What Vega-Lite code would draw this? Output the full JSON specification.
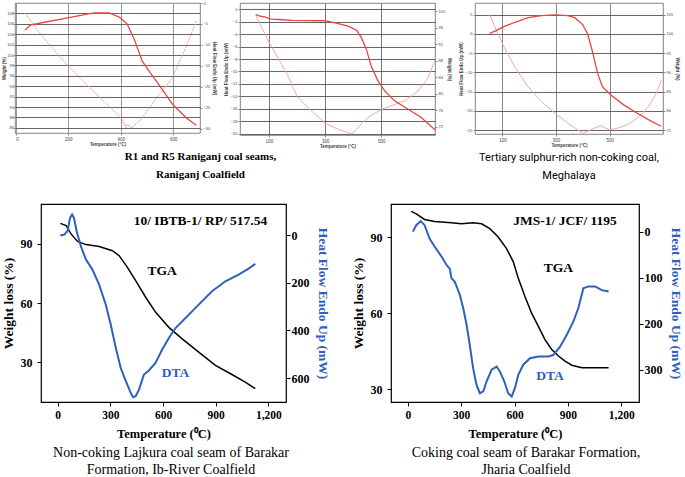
{
"$schema":"https://vega.github.io/schema/vega-lite/v6.json",
"background":"white",
"padding":{"left":0,"top":0,"right":0,"bottom":0},
"config":{"font":"Liberation Serif","view":{"stroke":"black","strokeWidth":1.2},"axis":{"labelColor":"black","titleColor":"black","tickColor":"black","domainColor":"black"}},
"datasets":{
"p1_tga":[{"T":35,"v":104.8},{"T":58,"v":105.8},{"T":100,"v":106.2},{"T":192,"v":107.1},{"T":298,"v":108.1},{"T":356,"v":108.1},{"T":394,"v":107.3},{"T":424,"v":106.0},{"T":451,"v":103.1},{"T":482,"v":98.8},{"T":508,"v":96.9},{"T":554,"v":93.7},{"T":596,"v":90.6},{"T":650,"v":87.9},{"T":688,"v":86.5}],
"p1_dta":[{"T":35,"v":-2.4},{"T":100,"v":-7.9},{"T":192,"v":-14.5},{"T":306,"v":-21.7},{"T":402,"v":-27.4},{"T":421,"v":-29.8},{"T":424,"v":-28.9},{"T":443,"v":-29.8},{"T":482,"v":-27.4},{"T":535,"v":-22.7},{"T":596,"v":-17.9},{"T":650,"v":-10.3},{"T":688,"v":-4.3}],
"p2_tga":[{"T":53,"v":99.2},{"T":65,"v":98.9},{"T":88,"v":98.6},{"T":106,"v":98.1},{"T":135,"v":98.0},{"T":182,"v":97.8},{"T":300,"v":97.7},{"T":347,"v":97.0},{"T":382,"v":96.4},{"T":412,"v":95.4},{"T":429,"v":93.6},{"T":447,"v":90.7},{"T":464,"v":86.7},{"T":488,"v":83.1},{"T":512,"v":80.7},{"T":547,"v":78.3},{"T":594,"v":76.3},{"T":641,"v":74.3},{"T":691,"v":71.3}],
"p2_dta":[{"T":53,"v":-1.0},{"T":77,"v":-3.2},{"T":100,"v":-5.3},{"T":135,"v":-8.0},{"T":170,"v":-10.9},{"T":200,"v":-14.0},{"T":241,"v":-15.9},{"T":300,"v":-18.3},{"T":347,"v":-19.3},{"T":394,"v":-20.0},{"T":412,"v":-19.3},{"T":430,"v":-18.3},{"T":459,"v":-17.2},{"T":500,"v":-16.1},{"T":547,"v":-15.3},{"T":588,"v":-14.6},{"T":629,"v":-13.2},{"T":665,"v":-11.1},{"T":691,"v":-8.2}],
"p3_tga":[{"T":52,"v":100.1},{"T":73,"v":100.7},{"T":98,"v":101.6},{"T":110,"v":102.0},{"T":147,"v":103.0},{"T":196,"v":104.2},{"T":246,"v":104.7},{"T":295,"v":104.9},{"T":344,"v":104.7},{"T":369,"v":104.2},{"T":399,"v":102.4},{"T":418,"v":99.9},{"T":436,"v":95.2},{"T":455,"v":89.6},{"T":473,"v":86.2},{"T":504,"v":84.1},{"T":553,"v":81.5},{"T":602,"v":79.4},{"T":652,"v":77.4},{"T":691,"v":76.0}],
"p3_dta":[{"T":52,"v":5.0},{"T":73,"v":1.6},{"T":104,"v":-3.1},{"T":147,"v":-8.7},{"T":196,"v":-13.8},{"T":246,"v":-17.6},{"T":295,"v":-20.6},{"T":344,"v":-23.2},{"T":399,"v":-25.8},{"T":418,"v":-25.3},{"T":442,"v":-24.5},{"T":467,"v":-23.8},{"T":479,"v":-24.3},{"T":498,"v":-24.9},{"T":528,"v":-24.5},{"T":565,"v":-23.6},{"T":602,"v":-21.9},{"T":639,"v":-19.4},{"T":670,"v":-15.9},{"T":691,"v":-12.1}],
"p4_tga":[{"T":15,"v":100.2},{"T":48,"v":99.1},{"T":76,"v":94.9},{"T":113,"v":91.1},{"T":161,"v":89.5},{"T":236,"v":88.5},{"T":312,"v":86.4},{"T":350,"v":83.9},{"T":397,"v":78.0},{"T":444,"v":71.3},{"T":501,"v":62.9},{"T":558,"v":55.3},{"T":633,"v":47.7},{"T":709,"v":41.9},{"T":803,"v":35.2},{"T":898,"v":28.5},{"T":992,"v":23.9},{"T":1068,"v":20.0},{"T":1125,"v":16.7}],
"p4_dta":[{"T":15,"v":2},{"T":38,"v":-2},{"T":57,"v":-18},{"T":70,"v":-71},{"T":82,"v":-86},{"T":93,"v":-71},{"T":108,"v":-16},{"T":132,"v":47},{"T":161,"v":103},{"T":198,"v":145},{"T":236,"v":208},{"T":274,"v":292},{"T":302,"v":375},{"T":331,"v":474},{"T":359,"v":557},{"T":388,"v":613},{"T":416,"v":662},{"T":429,"v":680},{"T":444,"v":676},{"T":463,"v":648},{"T":491,"v":585},{"T":519,"v":568},{"T":557,"v":536},{"T":595,"v":480},{"T":633,"v":432},{"T":671,"v":390},{"T":728,"v":348},{"T":803,"v":292},{"T":879,"v":236},{"T":955,"v":194},{"T":1030,"v":166},{"T":1087,"v":141},{"T":1125,"v":121}],
"p5_tga":[{"T":19,"v":100.1},{"T":47,"v":99.1},{"T":94,"v":96.9},{"T":151,"v":96.1},{"T":245,"v":95.6},{"T":301,"v":95.2},{"T":367,"v":95.6},{"T":414,"v":95.2},{"T":461,"v":93.3},{"T":508,"v":90.0},{"T":555,"v":85.4},{"T":593,"v":80.2},{"T":621,"v":73.7},{"T":659,"v":66.5},{"T":696,"v":60.0},{"T":734,"v":54.8},{"T":771,"v":49.6},{"T":809,"v":45.7},{"T":847,"v":43.1},{"T":884,"v":41.1},{"T":922,"v":39.5},{"T":979,"v":38.5},{"T":1054,"v":38.5},{"T":1129,"v":38.5}],
"p5_dta":[{"T":28,"v":0},{"T":47,"v":-14},{"T":72,"v":-23},{"T":94,"v":-14},{"T":122,"v":15},{"T":151,"v":33},{"T":189,"v":54},{"T":217,"v":72},{"T":236,"v":81},{"T":245,"v":101},{"T":264,"v":109},{"T":292,"v":137},{"T":311,"v":166},{"T":330,"v":202},{"T":348,"v":246},{"T":367,"v":297},{"T":386,"v":333},{"T":405,"v":351},{"T":424,"v":347},{"T":443,"v":325},{"T":471,"v":300},{"T":499,"v":293},{"T":518,"v":304},{"T":542,"v":325},{"T":564,"v":351},{"T":584,"v":358},{"T":602,"v":340},{"T":621,"v":311},{"T":649,"v":289},{"T":687,"v":275},{"T":734,"v":271},{"T":790,"v":271},{"T":818,"v":268},{"T":856,"v":250},{"T":894,"v":224},{"T":931,"v":195},{"T":959,"v":166},{"T":978,"v":137},{"T":987,"v":123},{"T":1016,"v":119},{"T":1053,"v":119},{"T":1091,"v":127},{"T":1129,"v":130}],
"p4_black":[{"T":813,"v":101.6,"label":"10/ IBTB-1/ RP/ 517.54"},{"T":595,"v":76.4,"label":"TGA"}],
"p4_blue":[{"T":671,"v":24.6,"label":"DTA"}],
"p5_black":[{"T":884,"v":96.5,"label":"JMS-1/ JCF/ 1195"},{"T":846,"v":77.9,"label":"TGA"}],
"p5_blue":[{"T":800,"v":35.2,"label":"DTA"}]
},
"spacing":21,
"vconcat":[
{"hconcat":[
{"width":185,"height":130,"view":{"stroke":"#666","strokeWidth":0.8},
"title":{"text":["R1 and R5 Raniganj coal seams,","Raniganj Coalfield"],"orient":"bottom","anchor":"middle","frame":"group","dx":93,"offset":5,"font":"Liberation Serif","fontSize":11,"fontWeight":"bold","lineHeight":18,"color":"black"},
"layer":[
{"data":{"name":"p1_tga"},"mark":{"type":"line","color":"#e8453c","strokeWidth":1.3},
"encoding":{"x":{"field":"T","type":"quantitative","scale":{"domain":[-3,702],"nice":false},"axis":{"values":[0,100,200,300,400,500,600,700],"title":"Temperature (°C)","labelFont":"Liberation Sans","titleFont":"Liberation Sans","labelFontSize":4.5,"titleFontSize":4.5,"labelColor":"#444","titleColor":"#444","tickSize":2,"tickColor":"#888","labelPadding":1,"titlePadding":1,"grid":true,"gridColor":"#999","gridWidth":1,"domain":false}},
"y":{"field":"v","type":"quantitative","scale":{"domain":[85,110],"nice":false,"zero":false},"axis":{"orient":"left","values":[86,88,90,92,94,96,98,100,102,104,106,108],"title":"Weight (%)","labelFont":"Liberation Sans","titleFont":"Liberation Sans","labelFontSize":4,"titleFontSize":4.5,"labelColor":"#444","titleColor":"#444","tickSize":1.5,"tickColor":"#888","labelPadding":0,"titlePadding":0.5,"grid":true,"gridColor":"#555","gridWidth":0.9,"domain":false}}}},
{"data":{"name":"p1_dta"},"mark":{"type":"line","color":"#f29a92","strokeWidth":1,"strokeDash":[2,1]},
"encoding":{"x":{"field":"T","type":"quantitative","scale":{"domain":[-3,702],"nice":false}},
"y":{"field":"v","type":"quantitative","scale":{"domain":[-31,0],"nice":false,"zero":false},"axis":{"orient":"right","values":[0,-5,-10,-15,-20,-25,-30],"title":"Heat Flow Endo Up (mW)","labelFont":"Liberation Sans","titleFont":"Liberation Sans","labelFontSize":4,"titleFontSize":4.5,"labelColor":"#444","titleColor":"#444","tickSize":2,"tickColor":"#888","labelPadding":1,"titlePadding":2,"grid":false,"domain":false}}}}
],
"resolve":{"scale":{"y":"independent"}}},
{"width":195,"height":132,"view":{"stroke":"#666","strokeWidth":0.8},
"layer":[
{"data":{"name":"p2_dta"},"mark":{"type":"line","color":"#f4a9a2","strokeWidth":1},
"encoding":{"x":{"field":"T","type":"quantitative","scale":{"domain":[-3,691],"nice":false},"axis":{"values":[100,200,300,400,500,600],"title":"Temperature (°C)","labelFont":"Liberation Sans","titleFont":"Liberation Sans","labelFontSize":4.5,"titleFontSize":4.5,"labelColor":"#444","titleColor":"#444","tickSize":2,"tickColor":"#888","labelPadding":1,"titlePadding":1,"grid":true,"gridColor":"#777","gridWidth":1,"domain":false}},
"y":{"field":"v","type":"quantitative","scale":{"domain":[-20.2,1],"nice":false,"zero":false},"axis":{"orient":"left","values":[0,-2,-4,-6,-8,-10,-12,-14,-16,-18,-20],"title":"Heat Flow Endo Up (mW)","labelFont":"Liberation Sans","titleFont":"Liberation Sans","labelFontSize":4,"titleFontSize":4.5,"labelColor":"#444","titleColor":"#444","tickSize":2,"tickColor":"#888","labelPadding":1,"titlePadding":2,"grid":true,"gridColor":"#555","gridWidth":0.9,"domain":false}}}},
{"data":{"name":"p2_tga"},"mark":{"type":"line","color":"#e8453c","strokeWidth":1.3},
"encoding":{"x":{"field":"T","type":"quantitative","scale":{"domain":[-3,691],"nice":false}},
"y":{"field":"v","type":"quantitative","scale":{"domain":[70,102],"nice":false,"zero":false},"axis":{"orient":"right","values":[72,76,80,84,88,92,96,100],"title":"Weight (%)","labelFont":"Liberation Sans","titleFont":"Liberation Sans","labelFontSize":4,"titleFontSize":4.5,"labelColor":"#444","titleColor":"#444","tickSize":2,"tickColor":"#888","labelPadding":1,"titlePadding":2,"grid":false,"domain":false}}}}
],
"resolve":{"scale":{"y":"independent"}}},
{"width":188,"height":131,"view":{"stroke":"#666","strokeWidth":0.8},
"title":{"text":["Tertiary sulphur-rich non-coking coal,","Meghalaya"],"orient":"bottom","anchor":"middle","frame":"group","offset":5,"font":"Roboto","fontSize":11,"fontWeight":"normal","lineHeight":18,"color":"black"},
"layer":[
{"data":{"name":"p3_dta"},"mark":{"type":"line","color":"#f4a9a2","strokeWidth":1},
"encoding":{"x":{"field":"T","type":"quantitative","scale":{"domain":[-2,698],"nice":false},"axis":{"values":[100,200,300,400,500,600,700],"title":"Temperature (°C)","labelFont":"Liberation Sans","titleFont":"Liberation Sans","labelFontSize":4.5,"titleFontSize":4.5,"labelColor":"#444","titleColor":"#444","tickSize":2,"tickColor":"#888","labelPadding":1,"titlePadding":1,"grid":true,"gridColor":"#888","gridWidth":1,"domain":false}},
"y":{"field":"v","type":"quantitative","scale":{"domain":[-26,8],"nice":false,"zero":false},"axis":{"orient":"left","values":[5,0,-5,-10,-15,-20,-25],"title":"Heat Flow Endo Up (mW)","labelFont":"Liberation Sans","titleFont":"Liberation Sans","labelFontSize":4,"titleFontSize":4.5,"labelColor":"#444","titleColor":"#444","tickSize":2,"tickColor":"#888","labelPadding":1,"titlePadding":2,"grid":true,"gridColor":"#555","gridWidth":0.9,"domain":false}}}},
{"data":{"name":"p3_tga"},"mark":{"type":"line","color":"#e8453c","strokeWidth":1.3},
"encoding":{"x":{"field":"T","type":"quantitative","scale":{"domain":[-2,698],"nice":false}},
"y":{"field":"v","type":"quantitative","scale":{"domain":[74,108],"nice":false,"zero":false},"axis":{"orient":"right","values":[75,80,85,90,95,100,105],"title":"Weight (%)","labelFont":"Liberation Sans","titleFont":"Liberation Sans","labelFontSize":4,"titleFontSize":4.5,"labelColor":"#444","titleColor":"#444","tickSize":2,"tickColor":"#888","labelPadding":1,"titlePadding":2,"grid":false,"domain":false}}}}
],
"resolve":{"scale":{"y":"independent"}}}
],"bounds":"flush","spacing":40},
{"hconcat":[
{"width":26,"height":198,"view":{"stroke":null},"data":{"values":[]},"mark":"point"},
{"width":245,"height":198,
"title":{"text":["Non-coking Lajkura coal seam of Barakar","Formation, Ib-River Coalfield"],"orient":"bottom","anchor":"middle","frame":"group","dx":7.5,"offset":6,"font":"Liberation Serif","fontSize":14,"fontWeight":"normal","lineHeight":16.5,"color":"black"},
"layer":[
{"data":{"name":"p4_tga"},"mark":{"type":"line","color":"black","strokeWidth":1.5},
"encoding":{"x":{"field":"T","type":"quantitative","scale":{"domain":[-95,1300],"nice":false},"axis":{"values":[0,300,600,900,1200],"title":"Temperature (⁰C)","labelFont":"Liberation Serif","labelFontWeight":"bold","labelFontSize":11.5,"titleFont":"Liberation Serif","titleFontWeight":"bold","titleFontSize":12.5,"tickSize":4,"labelPadding":3,"titlePadding":7,"grid":false,"domain":false,"labelFlush":false}},
"y":{"field":"v","type":"quantitative","scale":{"domain":[10,110],"nice":false,"zero":false},"axis":{"orient":"left","values":[30,60,90],"title":"Weight loss (%)","labelFont":"Liberation Serif","labelFontWeight":"bold","labelFontSize":12,"titleFont":"Liberation Serif","titleFontWeight":"bold","titleFontSize":13.5,"tickSize":4,"labelPadding":5,"titlePadding":5,"grid":false,"domain":false}}}},
{"data":{"name":"p4_dta"},"mark":{"type":"line","color":"#2f5fbf","strokeWidth":2},
"encoding":{"x":{"field":"T","type":"quantitative","scale":{"domain":[-95,1300],"nice":false}},
"y":{"field":"v","type":"quantitative","scale":{"domain":[-130,700],"nice":false,"zero":false,"reverse":true},"axis":{"orient":"right","values":[0,200,400,600],"title":"Heat Flow Endo Up (mW)","titleColor":"#2f5fbf","labelFont":"Liberation Serif","labelFontWeight":"bold","labelFontSize":12,"titleFont":"Liberation Serif","titleFontWeight":"bold","titleFontSize":13.5,"tickSize":4,"labelPadding":1,"titlePadding":6,"grid":false,"domain":false}}}},
{"data":{"name":"p4_black"},"mark":{"type":"text","color":"black","font":"Liberation Serif","fontWeight":"bold","fontSize":13.5,"align":"center","baseline":"middle"},
"encoding":{"x":{"field":"T","type":"quantitative","scale":{"domain":[-95,1300],"nice":false}},"y":{"field":"v","type":"quantitative","scale":{"domain":[10,110],"nice":false,"zero":false},"axis":null},"text":{"field":"label"}}},
{"data":{"name":"p4_blue"},"mark":{"type":"text","color":"#2f5fbf","font":"Liberation Serif","fontWeight":"bold","fontSize":13.5,"align":"center","baseline":"middle"},
"encoding":{"x":{"field":"T","type":"quantitative","scale":{"domain":[-95,1300],"nice":false}},"y":{"field":"v","type":"quantitative","scale":{"domain":[10,110],"nice":false,"zero":false},"axis":null},"text":{"field":"label"}}}
],
"resolve":{"scale":{"y":"independent"}}},
{"width":105,"height":198,"view":{"stroke":null},"data":{"values":[]},"mark":"point"},
{"width":248,"height":198,
"title":{"text":["Coking coal seam of Barakar Formation,","Jharia Coalfield"],"orient":"bottom","anchor":"middle","frame":"group","dx":11,"offset":6,"font":"Liberation Serif","fontSize":14,"fontWeight":"normal","lineHeight":16.5,"color":"black"},
"layer":[
{"data":{"name":"p5_tga"},"mark":{"type":"line","color":"black","strokeWidth":1.5},
"encoding":{"x":{"field":"T","type":"quantitative","scale":{"domain":[-95,1300],"nice":false},"axis":{"values":[0,300,600,900,1200],"title":"Temperature (⁰C)","labelFont":"Liberation Serif","labelFontWeight":"bold","labelFontSize":11.5,"titleFont":"Liberation Serif","titleFontWeight":"bold","titleFontSize":12.5,"tickSize":4,"labelPadding":3,"titlePadding":7,"grid":false,"domain":false,"labelFlush":false}},
"y":{"field":"v","type":"quantitative","scale":{"domain":[25,103],"nice":false,"zero":false},"axis":{"orient":"left","values":[30,60,90],"title":"Weight loss (%)","labelFont":"Liberation Serif","labelFontWeight":"bold","labelFontSize":12,"titleFont":"Liberation Serif","titleFontWeight":"bold","titleFontSize":13.5,"tickSize":4,"labelPadding":5,"titlePadding":5,"grid":false,"domain":false}}}},
{"data":{"name":"p5_dta"},"mark":{"type":"line","color":"#2f5fbf","strokeWidth":2},
"encoding":{"x":{"field":"T","type":"quantitative","scale":{"domain":[-95,1300],"nice":false}},
"y":{"field":"v","type":"quantitative","scale":{"domain":[-60,370],"nice":false,"zero":false,"reverse":true},"axis":{"orient":"right","values":[0,100,200,300],"title":"Heat Flow Endo Up (mW)","titleColor":"#2f5fbf","labelFont":"Liberation Serif","labelFontWeight":"bold","labelFontSize":12,"titleFont":"Liberation Serif","titleFontWeight":"bold","titleFontSize":13.5,"tickSize":4,"labelPadding":1,"titlePadding":6,"grid":false,"domain":false}}}},
{"data":{"name":"p5_black"},"mark":{"type":"text","color":"black","font":"Liberation Serif","fontWeight":"bold","fontSize":13.5,"align":"center","baseline":"middle"},
"encoding":{"x":{"field":"T","type":"quantitative","scale":{"domain":[-95,1300],"nice":false}},"y":{"field":"v","type":"quantitative","scale":{"domain":[25,103],"nice":false,"zero":false},"axis":null},"text":{"field":"label"}}},
{"data":{"name":"p5_blue"},"mark":{"type":"text","color":"#2f5fbf","font":"Liberation Serif","fontWeight":"bold","fontSize":13.5,"align":"center","baseline":"middle"},
"encoding":{"x":{"field":"T","type":"quantitative","scale":{"domain":[-95,1300],"nice":false}},"y":{"field":"v","type":"quantitative","scale":{"domain":[25,103],"nice":false,"zero":false},"axis":null},"text":{"field":"label"}}}
],
"resolve":{"scale":{"y":"independent"}}}
],"bounds":"flush","spacing":0}
]
}
